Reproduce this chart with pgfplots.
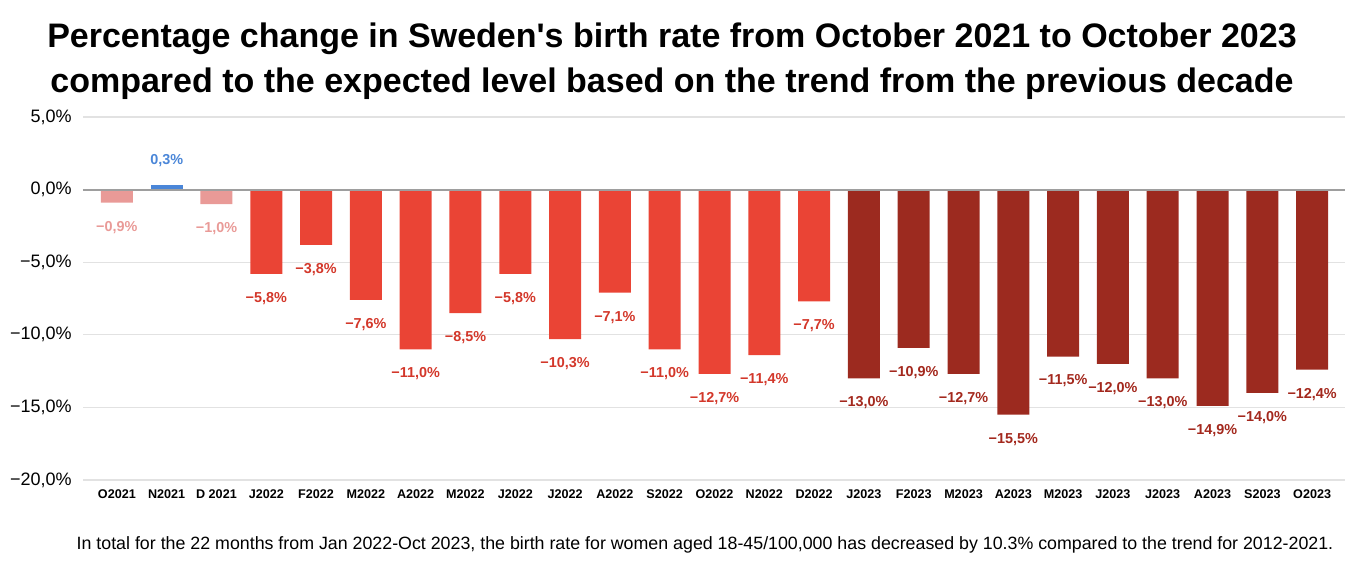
\documentclass[border=0pt]{standalone}
\usepackage{fontspec}
\setmainfont{Liberation Sans}
\usepackage{pgfplots}
\usepackage{pgfplotstable}
\pgfplotsset{compat=1.18}

\definecolor{pinkbar}{HTML}{E99A97}
\definecolor{bluebar}{HTML}{4A86D8}
\definecolor{redbar}{HTML}{EA4435}
\definecolor{darkbar}{HTML}{9C2A1F}
\definecolor{redlab}{HTML}{D3372A}
\definecolor{darklab}{HTML}{A3281D}
\definecolor{gridgray}{HTML}{E2E2E2}
\definecolor{zerogray}{HTML}{9E9E9E}

% late 2021
\pgfplotstableread{
x y lab
0 -0.9 −0,9
2 -1.0 −1,0
}\lighttab
\pgfplotstableread{
x y lab
1 0.3 0,3
}\bluetab
% 2022
\pgfplotstableread{
x y lab
3 -5.8 −5,8
4 -3.8 −3,8
5 -7.6 −7,6
6 -11.0 −11,0
7 -8.5 −8,5
8 -5.8 −5,8
9 -10.3 −10,3
10 -7.1 −7,1
11 -11.0 −11,0
12 -12.7 −12,7
13 -11.4 −11,4
14 -7.7 −7,7
}\redtab
% 2023
\pgfplotstableread{
x y lab
15 -13.0 −13,0
16 -10.9 −10,9
17 -12.7 −12,7
18 -15.5 −15,5
19 -11.5 −11,5
20 -12.0 −12,0
21 -13.0 −13,0
22 -14.9 −14,9
23 -14.0 −14,0
24 -12.4 −12,4
}\darktab

\begin{document}
\begin{tikzpicture}
\useasboundingbox (-41.5pt,-43.5pt) rectangle (642pt,240pt);

\begin{axis}[
    at={(0,0)}, anchor=south west,
    scale only axis,
    width=631pt, height=181.5pt,
    xmin=-0.68, xmax=24.66,
    ymin=-20, ymax=5,
    ybar, bar width=16pt, bar shift=0pt,
    axis line style={draw=none},
    tick style={draw=none},
    ymajorgrids,
    grid style={color=gridgray, line width=0.6pt},
    ytick={-20,-15,-10,-5,0,5},
    yticklabels={{−20,0\%},{−15,0\%},{−10,0\%},{−5,0\%},{0,0\%},{5,0\%}},
    yticklabel style={font=\fontsize{9}{11}\selectfont, inner sep=0pt, xshift=-5.5pt},
    xtick={0,...,24},
    xticklabels={O2021,N2021,D 2021,J2022,F2022,M2022,A2022,M2022,J2022,J2022,A2022,S2022,O2022,N2022,D2022,J2023,F2023,M2023,A2023,M2023,J2023,J2023,A2023,S2023,O2023},
    xticklabel style={font=\bfseries\fontsize{6.3}{7}\selectfont, inner sep=0pt, yshift=-0.3pt},
    point meta=explicit symbolic,
    nodes near coords={\pgfplotspointmeta\%},
    every node near coord/.append style={font=\bfseries\fontsize{7.2}{8}\selectfont, inner sep=9pt, anchor=north},
]
\addplot[fill=pinkbar, draw=none, every node near coord/.append style={text=pinkbar}]
    table[x=x, y=y, meta=lab] {\lighttab};
\addplot[fill=bluebar, draw=none, every node near coord/.append style={text=bluebar, anchor=south}]
    table[x=x, y=y, meta=lab] {\bluetab};
\addplot[fill=redbar, draw=none, every node near coord/.append style={text=redlab}]
    table[x=x, y=y, meta=lab] {\redtab};
\addplot[fill=darkbar, draw=none, every node near coord/.append style={text=darklab}]
    table[x=x, y=y, meta=lab] {\darktab};
\draw[zerogray, line width=1pt] (axis cs:-0.68,0) -- (axis cs:24.66,0);
\end{axis}

\node[anchor=base, font=\bfseries\fontsize{17}{20}\selectfont] at (294.5pt,216pt)
    {Percentage change in Sweden\textquotesingle s birth rate from October 2021 to October 2023};
\node[anchor=base, font=\bfseries\fontsize{17}{20}\selectfont] at (294.5pt,193.5pt)
    {compared to the expected level based on the trend from the previous decade};
\node[anchor=base, font=\fontsize{8.9}{11}\selectfont] at (311pt,-35pt)
    {In total for the 22 months from Jan 2022-Oct 2023, the birth rate for women aged 18-45/100,000 has decreased by 10.3\% compared to the trend for 2012-2021.};
\end{tikzpicture}
\end{document}
